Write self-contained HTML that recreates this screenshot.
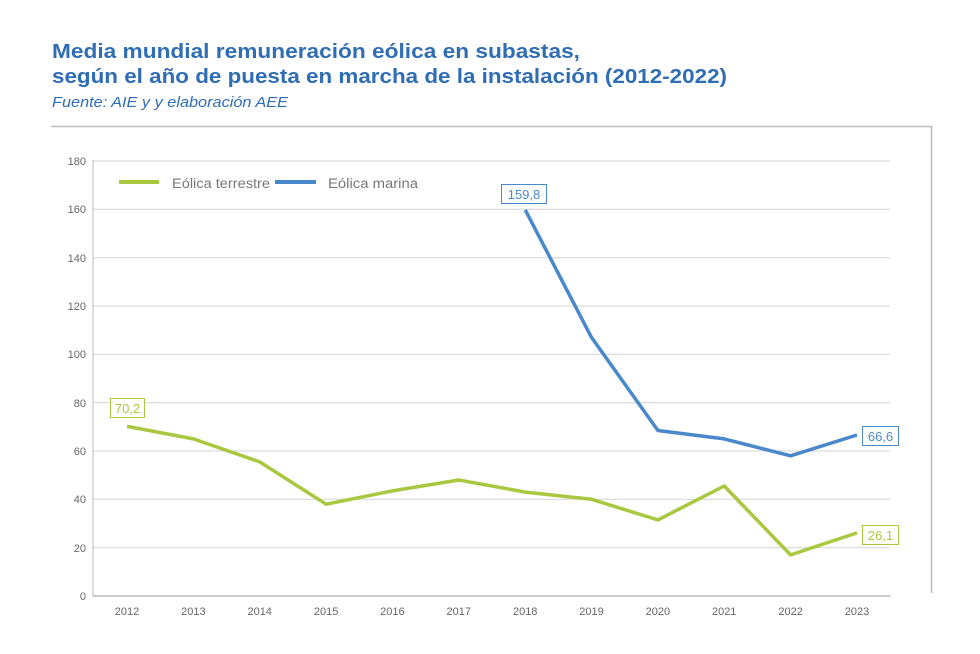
<!DOCTYPE html>
<html><head><meta charset="utf-8"><style>
body{margin:0;background:#fff;width:980px;height:649px;overflow:hidden;font-family:"Liberation Sans",sans-serif}
</style></head><body>
<svg width="980" height="649" xmlns="http://www.w3.org/2000/svg" font-family="Liberation Sans, sans-serif">
<text x="52" y="58" font-size="20.5" font-weight="bold" fill="#2f6db5" textLength="528" lengthAdjust="spacingAndGlyphs">Media mundial remuneración eólica en subastas,</text>
<text x="52" y="83" font-size="20.5" font-weight="bold" fill="#2f6db5" textLength="675" lengthAdjust="spacingAndGlyphs">según el año de puesta en marcha de la instalación (2012-2022)</text>
<text x="52" y="107" font-size="14.5" font-style="italic" fill="#2f6db5" textLength="236" lengthAdjust="spacingAndGlyphs">Fuente: AIE y y elaboración AEE</text>
<line x1="51" y1="126.5" x2="932" y2="126.5" stroke="#bbb" stroke-width="1.5"/>
<line x1="931.5" y1="126" x2="931.5" y2="593" stroke="#bbb" stroke-width="1.5"/>
<g stroke="#d4d4d4" stroke-width="1">
<line x1="93" y1="161" x2="890" y2="161"/><line x1="93" y1="209.3" x2="890" y2="209.3"/>
<line x1="93" y1="257.7" x2="890" y2="257.7"/><line x1="93" y1="306" x2="890" y2="306"/>
<line x1="93" y1="354.3" x2="890" y2="354.3"/><line x1="93" y1="402.7" x2="890" y2="402.7"/>
<line x1="93" y1="451" x2="890" y2="451"/><line x1="93" y1="499.3" x2="890" y2="499.3"/>
<line x1="93" y1="547.7" x2="890" y2="547.7"/>
</g>
<line x1="93" y1="596" x2="890" y2="596" stroke="#bbb" stroke-width="1.5"/>
<line x1="93" y1="160" x2="93" y2="596" stroke="#bbb" stroke-width="1"/>
<g font-size="11" fill="#666" text-anchor="end">
<text x="86" y="165">180</text><text x="86" y="213">160</text><text x="86" y="262">140</text>
<text x="86" y="310">120</text><text x="86" y="358">100</text><text x="86" y="407">80</text>
<text x="86" y="455">60</text><text x="86" y="503">40</text><text x="86" y="552">20</text><text x="86" y="600">0</text>
</g>
<g font-size="11" fill="#666" text-anchor="middle">
<text x="127" y="615">2012</text><text x="193.4" y="615">2013</text><text x="259.7" y="615">2014</text>
<text x="326.1" y="615">2015</text><text x="392.4" y="615">2016</text><text x="458.8" y="615">2017</text>
<text x="525.2" y="615">2018</text><text x="591.5" y="615">2019</text><text x="657.9" y="615">2020</text>
<text x="724.2" y="615">2021</text><text x="790.6" y="615">2022</text><text x="857" y="615">2023</text>
</g>
<line x1="119" y1="182" x2="159" y2="182" stroke="#a9c840" stroke-width="4"/>
<text x="172" y="188" font-size="13.5" fill="#777" textLength="98" lengthAdjust="spacingAndGlyphs">Eólica terrestre</text>
<line x1="275" y1="182" x2="316" y2="182" stroke="#4a88cc" stroke-width="4"/>
<text x="328" y="188" font-size="13.5" fill="#777" textLength="90" lengthAdjust="spacingAndGlyphs">Eólica marina</text>
<polyline fill="none" stroke="#a9c840" stroke-width="3.5" stroke-linejoin="round" points="127,426.3 193.4,438.9 259.7,461.9 326.1,504.2 392.4,490.9 458.8,480 525.2,492.1 591.5,499.3 657.9,519.9 724.2,486 790.6,554.9 857,532.9"/>
<polyline fill="none" stroke="#4a88cc" stroke-width="3.5" stroke-linejoin="round" points="525.2,209.8 591.5,337.4 657.9,430.5 724.2,438.9 790.6,455.8 857,435"/>
<rect x="110.5" y="398.5" width="34" height="19" fill="#fff" stroke="#a9c840"/>
<text x="127.5" y="413" font-size="13" fill="#a9c840" text-anchor="middle">70,2</text>
<rect x="501.5" y="184.5" width="45" height="19" fill="#fff" stroke="#4a88cc"/>
<text x="524" y="199" font-size="13" fill="#4a88cc" text-anchor="middle">159,8</text>
<rect x="862.5" y="426.5" width="36" height="19" fill="#fff" stroke="#4a88cc"/>
<text x="880.5" y="441" font-size="13" fill="#4a88cc" text-anchor="middle">66,6</text>
<rect x="862.5" y="525.5" width="36" height="19" fill="#fff" stroke="#a9c840"/>
<text x="880.5" y="540" font-size="13" fill="#a9c840" text-anchor="middle">26,1</text>
</svg>
</body></html>
